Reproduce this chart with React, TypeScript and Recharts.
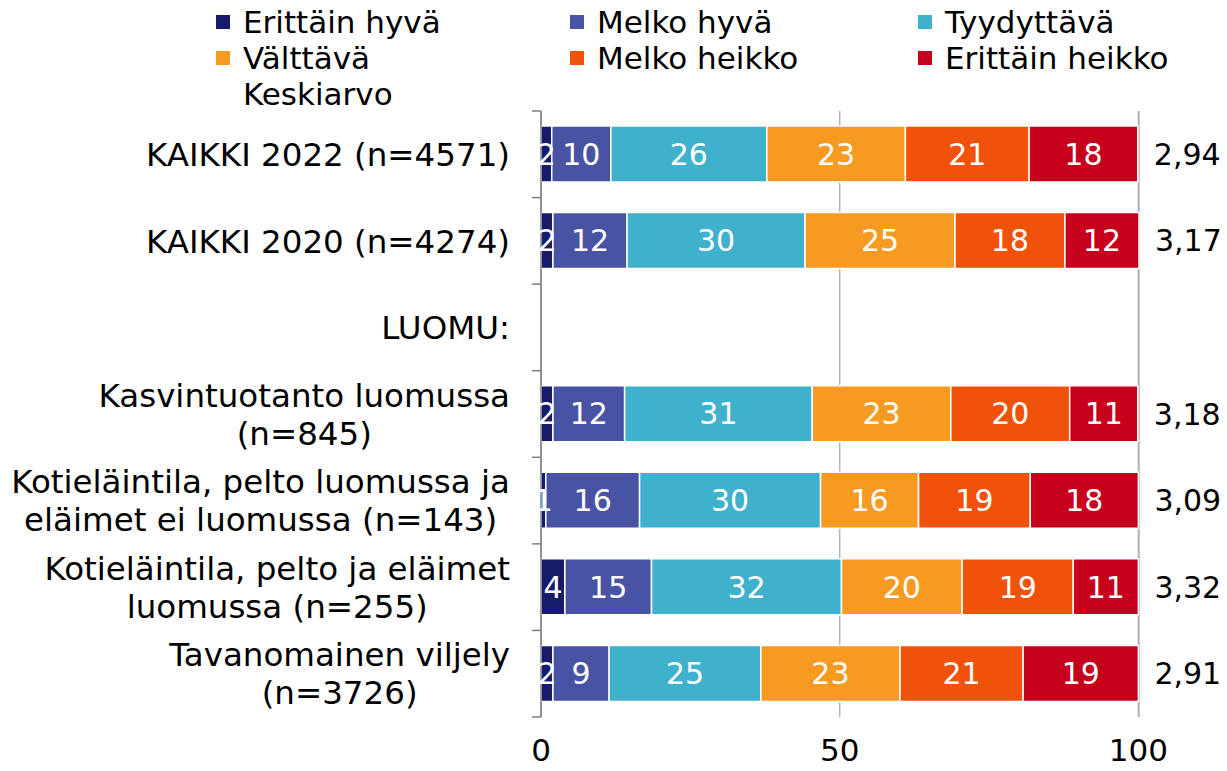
import React from 'react';
import { BarChart, Bar, XAxis, YAxis, CartesianGrid, LabelList } from 'recharts';

const categories = [
  'KAIKKI 2022 (n=4571)',
  'KAIKKI 2020 (n=4274)',
  'LUOMU:',
  'Kasvintuotanto luomussa\n(n=845)',
  'Kotieläintila, pelto luomussa ja\neläimet ei luomussa (n=143)',
  'Kotieläintila, pelto ja eläimet\nluomussa (n=255)',
  'Tavanomainen viljely\n(n=3726)',
];
const seriesNames = ['Erittäin hyvä', 'Melko hyvä', 'Tyydyttävä', 'Välttävä', 'Melko heikko', 'Erittäin heikko'];
const erittainHyva = [1.8, 2.0, null, 2.0, 0.8, 4.0, 2.0];
const melkoHyva = [9.9, 12.4, null, 12.0, 15.7, 14.5, 9.4];
const tyydyttava = [26.1, 29.8, null, 31.4, 30.3, 31.8, 25.4];
const valttava = [23.2, 25.1, null, 23.2, 16.4, 20.2, 23.3];
const melkoHeikko = [20.7, 18.4, null, 19.9, 18.7, 18.6, 20.6];
const erittainHeikko = [18.2, 12.4, null, 11.4, 18.1, 10.9, 19.3];
const keskiarvo = ['2,94', '3,17', '', '3,18', '3,09', '3,32', '2,91'];
const meanLabel = 'Keskiarvo';
const xTicks = [0, 50, 100];

const colors = ['#161b6c', '#4953a4', '#3fb1cd', '#f79a21', '#f0520a', '#c6001c'];
const keys = ['s0', 's1', 's2', 's3', 's4', 's5'];
const seriesValues = [erittainHyva, melkoHyva, tyydyttava, valttava, melkoHeikko, erittainHeikko];

const data = categories.map((c, i) => {
  const row: any = { name: c, mean: keskiarvo[i] };
  keys.forEach((k, j) => { row[k] = seriesValues[j][i]; });
  return row;
});

const W = 1227;
const H = 771;
const AXIS_X = 541;
const TOP = 111;
const XAXIS_H = 54;
const RIGHT = 88;
const BAND = (H - TOP - XAXIS_H) / categories.length;
const FONT = '"DejaVu Sans", Verdana, sans-serif';
const CAT_FS = 32.5;

let ctx: CanvasRenderingContext2D | null = null;
function measure(t: string, fs: number) {
  if (!ctx) {
    const c = document.createElement('canvas');
    ctx = c.getContext('2d');
  }
  if (!ctx) return t.length * fs * 0.6;
  ctx.font = `${fs}px "DejaVu Sans"`;
  return ctx.measureText(t).width;
}

function CategoryTick(props: any) {
  const { y, payload, index } = props;
  const lines = String(payload.value).split('\n');
  const maxW = Math.max(...lines.map((l) => measure(l, CAT_FS)));
  const cx = AXIS_X - 31 - maxW / 2;
  const lh = 38;
  const startY = y - ((lines.length - 1) * lh) / 2;
  return (
    <g>
      <line x1={AXIS_X - 9} x2={AXIS_X} y1={y - BAND / 2} y2={y - BAND / 2} stroke="#7f7f7f" strokeWidth={1.5} />
      {index === categories.length - 1 && (
        <line x1={AXIS_X - 9} x2={AXIS_X} y1={y + BAND / 2} y2={y + BAND / 2} stroke="#7f7f7f" strokeWidth={1.5} />
      )}
      <text textAnchor="middle" fontSize={CAT_FS} fontFamily={FONT} fill="#000">
        {lines.map((l, i) => (
          <tspan key={i} x={cx} y={startY + i * lh} dy="0.36em">{l}</tspan>
        ))}
      </text>
    </g>
  );
}

function MeanLabel(props: any) {
  const { x, y, width, height, value } = props;
  if (!value) return null;
  return (
    <text x={x + width + 16} y={y + height / 2} dy="0.36em" fontSize={30} fontFamily={FONT} fill="#000">
      {value}
    </text>
  );
}

const fmt = (v: any) => (v == null ? '' : String(Math.round(Number(v))));

const legendCols = [216, 570, 918];
const legendRows = [22, 58];
const LEG_FS = 31;

export default function App() {
  return (
    <div style={{ position: 'absolute', left: 0, top: 0, width: W, height: H, background: '#fff' }}>
      <BarChart
        width={W}
        height={H}
        data={data}
        layout="vertical"
        margin={{ top: TOP, right: RIGHT, bottom: 0, left: 0 }}
        barSize={56}
      >
        <CartesianGrid horizontal={false} vertical stroke="#b4b4b4" strokeWidth={1.5} />
        <XAxis
          type="number"
          domain={[0, 100]}
          ticks={xTicks}
          axisLine={false}
          tickLine={false}
          height={XAXIS_H}
          tick={{ fontSize: 31, fill: '#000', fontFamily: FONT }}
          tickMargin={16}
        />
        <YAxis
          type="category"
          dataKey="name"
          width={AXIS_X}
          axisLine={{ stroke: '#7f7f7f', strokeWidth: 1.5 }}
          tickLine={false}
          tick={<CategoryTick />}
          interval={0}
        />
        {keys.map((k, j) => (
          <Bar key={k} dataKey={k} name={seriesNames[j]} stackId="a" fill={colors[j]} stroke="#fff" strokeWidth={1.5} isAnimationActive={false}>
            <LabelList dataKey={k} position="center" formatter={fmt} fill="#fff" fontSize={30} fontFamily={FONT} />
            {j === keys.length - 1 && <LabelList dataKey="mean" content={<MeanLabel />} />}
          </Bar>
        ))}
      </BarChart>
      {seriesNames.map((n, i) => {
        const col = i % 3;
        const row = Math.floor(i / 3);
        return (
          <div
            key={n}
            style={{
              position: 'absolute',
              left: legendCols[col],
              top: legendRows[row] - 18,
              height: 36,
              display: 'flex',
              alignItems: 'center',
              fontFamily: FONT,
              fontSize: LEG_FS,
              color: '#000',
              whiteSpace: 'nowrap',
            }}
          >
            <span style={{ display: 'inline-block', width: 14, height: 14, background: colors[i], marginRight: 13 }} />
            {n}
          </div>
        );
      })}
      <div
        style={{
          position: 'absolute',
          left: legendCols[0] + 27,
          top: 94 - 18,
          height: 36,
          display: 'flex',
          alignItems: 'center',
          fontFamily: FONT,
          fontSize: LEG_FS,
          color: '#000',
        }}
      >
        {meanLabel}
      </div>
    </div>
  );
}
